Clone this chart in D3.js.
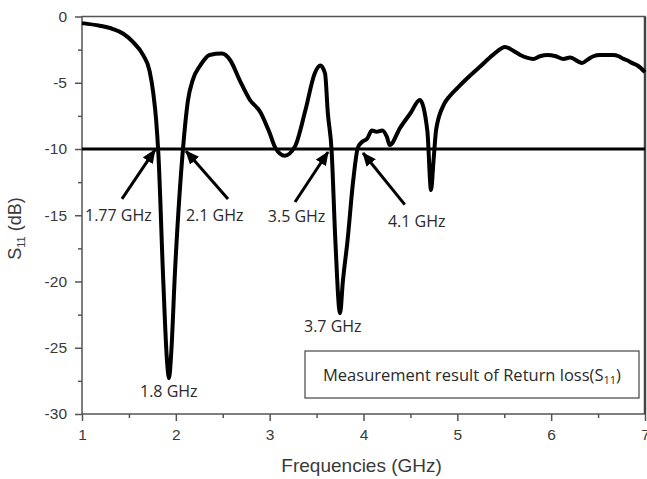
<!DOCTYPE html>
<html>
<head>
<meta charset="utf-8">
<script src="https://cdn.jsdelivr.net/npm/d3@7"></script>
<style>
body { margin: 0; background: #fff; }
.axis .tick text { font-family: "Liberation Sans", Arial, sans-serif; font-size: 15.5px; fill: #3a3a3a; }
.axis .tick line { stroke: #555; stroke-width: 1.5px; }
.title { font-family: "Liberation Sans", Arial, sans-serif; fill: #3a3a3a; }
.note { font-family: "Open Sans", sans-serif; font-size: 16px; fill: #2a2a2a; }
</style>
</head>
<body>
<svg class="chart"></svg>
<script>
var freq = [1.00, 1.19, 1.33, 1.44, 1.54, 1.65, 1.72, 1.76, 1.79, 1.815, 1.863, 1.906, 1.927, 1.95, 1.99, 2.076,
    2.13, 2.18, 2.26, 2.36, 2.49, 2.58, 2.68, 2.79, 2.90, 3.00, 3.06, 3.16, 3.27, 3.38, 3.48, 3.54, 3.59, 3.62,
    3.66, 3.70, 3.75, 3.78, 3.83, 3.89, 3.94, 3.98, 4.04, 4.09, 4.14, 4.20, 4.25, 4.28, 4.39, 4.50, 4.60, 4.68,
    4.72, 4.745, 4.775, 4.86, 4.92, 5.00, 5.10, 5.24, 5.38, 5.51, 5.60, 5.67, 5.74, 5.81, 5.88, 5.96, 6.05,
    6.13, 6.20, 6.33, 6.40, 6.45, 6.52, 6.60, 6.66, 6.72, 6.77, 6.81, 6.86, 6.92, 7.00];
var s11 = [-0.5, -0.7, -0.95, -1.3, -1.9, -2.9, -4.1, -5.8, -7.8, -10.5, -19.4, -26.0, -27.3, -25.5, -19.4, -10.0,
    -6.3, -4.8, -3.7, -2.9, -2.8, -3.3, -4.8, -6.3, -7.2, -8.8, -9.9, -10.5, -9.8, -7.1, -4.3, -3.7, -4.3, -7.3,
    -10.1, -16.9, -22.4, -20.0, -16.9, -12.4, -9.9, -9.5, -9.2, -8.6, -8.7, -8.6, -9.1, -9.7, -8.4, -7.3, -6.3, -8.6,
    -13.1, -11.0, -8.5, -6.6, -6.0, -5.4, -4.7, -3.8, -2.9, -2.3, -2.6, -2.9, -3.1, -3.2, -3.0, -2.9, -3.0,
    -3.2, -3.1, -3.5, -3.2, -3.0, -2.9, -2.9, -2.9, -3.0, -3.2, -3.3, -3.5, -3.7, -4.2];

// axis ticks
var xTicks = [1, 2, 3, 4, 5, 6, 7];
var xMinor = [1.5, 2.5, 3.5, 4.5, 5.5, 6.5];
var yTicks = [0, -5, -10, -15, -20, -25, -30];
var yMinor = [-2.5, -7.5, -12.5, -17.5, -22.5, -27.5];

// arrows: tip and tail in (GHz, dB)
var arrowTipF = [1.778, 2.108, 3.622, 3.995];
var arrowTipS = [-10.07, -10.15, -10.23, -10.3];
var arrowTailF = [1.426, 2.556, 3.27, 4.44];
var arrowTailS = [-13.77, -13.77, -14.0, -14.2];

// frequency labels
var noteText = ["1.77 GHz", "2.1 GHz", "3.5 GHz", "4.1 GHz", "3.7 GHz", "1.8 GHz"];
var noteF = [1.032, 2.108, 2.98, 4.26, 3.366, 1.618];
var noteS = [-15.43, -15.43, -15.5, -15.9, -23.8, -28.7];

function show() {

    'use strict';

    var W = 647, H = 479;
    var margin = {top: 16.5, right: 2, bottom: 65, left: 82},
        width = W - margin.left - margin.right,
        height = H - margin.top - margin.bottom;

    var svg = d3.select(".chart")
        .attr("width", W)
        .attr("height", H);

    var chart = svg.append("g")
        .attr("transform", "translate(" + margin.left + "," + margin.top + ")");

    var x = d3.scaleLinear().domain([1, 7]).range([0, width]);
    var y = d3.scaleLinear().domain([0, -30]).range([0, height]);

    // arrowhead
    svg.append("defs").append("marker")
        .attr("id", "head")
        .attr("markerUnits", "userSpaceOnUse")
        .attr("viewBox", "0 0 14 12")
        .attr("refX", 13).attr("refY", 6)
        .attr("markerWidth", 14).attr("markerHeight", 12)
        .attr("orient", "auto")
        .append("path")
        .attr("d", "M0,0L14,6L0,12Z")
        .attr("fill", "#000");

    // axes: major ticks with labels, minor ticks without
    var fmt = function(d) { return String(d); };

    chart.append("g").attr("class", "axis")
        .call(d3.axisLeft(y).tickValues(yTicks).tickSize(7).tickPadding(8).tickFormat(fmt));
    chart.append("g").attr("class", "axis")
        .call(d3.axisLeft(y).tickValues(yMinor).tickSize(4).tickFormat(""));
    chart.append("g").attr("class", "axis")
        .attr("transform", "translate(0," + height + ")")
        .call(d3.axisBottom(x).tickValues(xTicks).tickSize(7).tickPadding(8).tickFormat(fmt));
    chart.append("g").attr("class", "axis")
        .attr("transform", "translate(0," + height + ")")
        .call(d3.axisBottom(x).tickValues(xMinor).tickSize(4).tickFormat(""));
    chart.selectAll(".domain").remove();

    // frame
    chart.append("rect")
        .attr("width", width).attr("height", height)
        .attr("fill", "none")
        .attr("stroke", "#555")
        .attr("stroke-width", 1.5);
    chart.append("line")
        .attr("x1", width).attr("x2", width)
        .attr("y1", 0).attr("y2", height)
        .attr("stroke", "#444").attr("stroke-width", 2.5);

    // the curve
    var line = d3.line()
        .x(function(d) { return x(d[0]); })
        .y(function(d) { return y(d[1]); })
        .curve(d3.curveMonotoneX);

    chart.append("path")
        .datum(d3.zip(freq, s11))
        .attr("d", line)
        .attr("fill", "none")
        .attr("stroke", "#000")
        .attr("stroke-width", 4)
        .attr("stroke-linejoin", "round");

    // -10 dB reference
    chart.append("line")
        .attr("x1", x(1)).attr("x2", x(7))
        .attr("y1", y(-10)).attr("y2", y(-10))
        .attr("stroke", "#000").attr("stroke-width", 3);

    // arrows
    chart.selectAll(".arrow")
        .data(d3.range(arrowTipF.length))
        .enter().append("line")
        .attr("class", "arrow")
        .attr("x1", function(i) { return x(arrowTailF[i]); })
        .attr("y1", function(i) { return y(arrowTailS[i]); })
        .attr("x2", function(i) { return x(arrowTipF[i]); })
        .attr("y2", function(i) { return y(arrowTipS[i]); })
        .attr("stroke", "#000")
        .attr("stroke-width", 3)
        .attr("marker-end", "url(#head)");

    // labels
    chart.selectAll(".note")
        .data(d3.range(noteText.length))
        .enter().append("text")
        .attr("class", "note")
        .attr("x", function(i) { return x(noteF[i]); })
        .attr("y", function(i) { return y(noteS[i]); })
        .text(function(i) { return noteText[i]; });

    // legend box
    var box = {x: 223, y: 334.5, w: 334, h: 47};
    chart.append("rect")
        .attr("x", box.x).attr("y", box.y)
        .attr("width", box.w).attr("height", box.h)
        .attr("fill", "#fff")
        .attr("stroke", "#444").attr("stroke-width", 1.2);
    var lt = chart.append("text")
        .attr("class", "note")
        .attr("x", box.x + box.w / 2).attr("y", box.y + 30)
        .attr("text-anchor", "middle")
        .style("font-size", "16.5px");
    lt.append("tspan").text("Measurement result of Return loss(S");
    lt.append("tspan").attr("font-size", "11px").attr("dy", 3).text("11");
    lt.append("tspan").attr("dy", -3).text(")");

    // axis titles
    svg.append("text")
        .attr("class", "title")
        .attr("x", margin.left + x(3.98)).attr("y", 472)
        .attr("text-anchor", "middle")
        .attr("font-size", "19px")
        .text("Frequencies (GHz)");

    var yt = svg.append("text")
        .attr("class", "title")
        .attr("transform", "translate(21," + (margin.top + y(-16)) + ") rotate(-90)")
        .attr("text-anchor", "middle")
        .attr("font-size", "18px");
    yt.append("tspan").text("S");
    yt.append("tspan").attr("font-size", "11px").attr("dy", 4).text("11");
    yt.append("tspan").attr("dy", -4).text(" (dB)");
}

show();
</script>
</body>
</html>
